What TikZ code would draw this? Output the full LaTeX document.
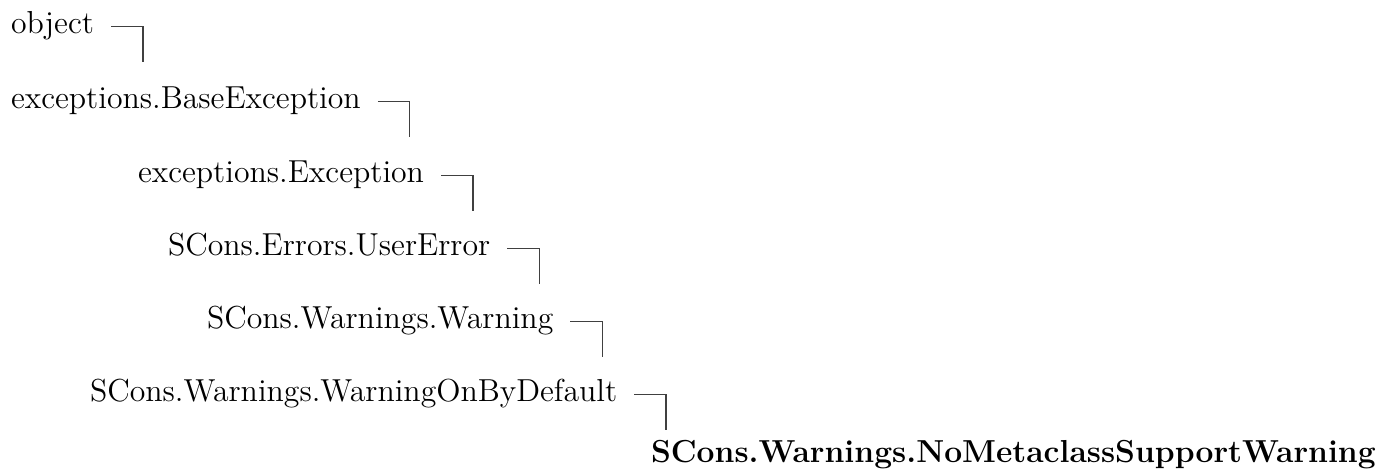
\documentclass[tikz,border=0pt]{standalone}
\newcommand{\clsname}[1]{\scalebox{1.325}{\fontsize{12}{14}\selectfont #1}}
\begin{document}
\begin{tikzpicture}[x=0.5pt,y=-0.5pt,
  cls/.style={inner sep=0pt,outer sep=0pt,text height=6.6pt,text depth=0pt,anchor=base west},
  conn/.style={draw=black!75,line width=0.7pt}]
\useasboundingbox (0,0) rectangle (1380,468);
\node[cls] (n1) at (11,33) {\clsname{object}};
\node[cls] (n2) at (11,108) {\clsname{exceptions.BaseException}};
\node[cls] (n3) at (138,182) {\clsname{exceptions.Exception}};
\node[cls] (n4) at (168,255) {\clsname{SCons.Errors.UserError}};
\node[cls] (n5) at (207,328) {\clsname{SCons.Warnings.Warning}};
\node[cls] (n6) at (90,401) {\clsname{SCons.Warnings.WarningOnByDefault}};
\node[cls] (n7) at (651,462) {\clsname{\bfseries SCons.Warnings.NoMetaclassSupportWarning}};
\foreach \n in {n1,n2,n3,n4,n5,n6}{
  \draw[conn] ([xshift=8.5pt]\n.east) -- ++(32,0) -- ++(0,36);
}
\end{tikzpicture}
\end{document}
